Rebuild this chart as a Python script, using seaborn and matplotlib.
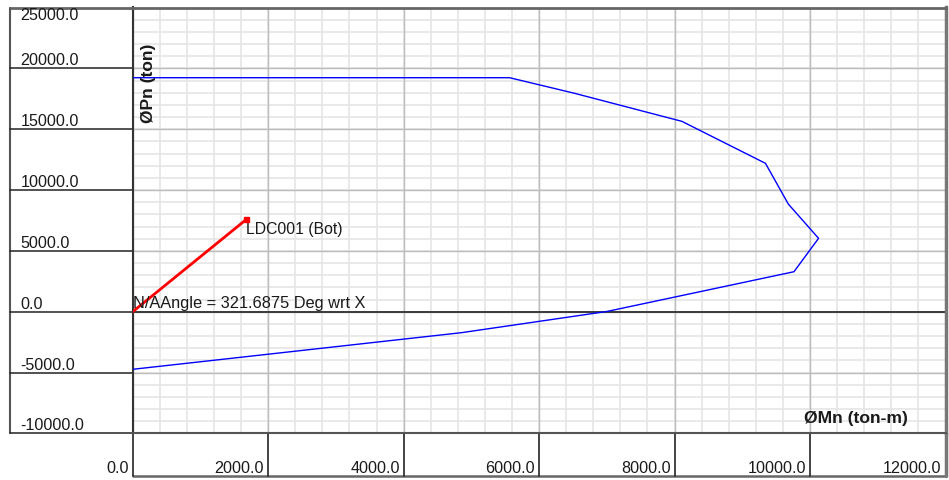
import matplotlib
matplotlib.use("Agg")
import matplotlib.pyplot as plt
import matplotlib.transforms as mtransforms
import numpy as np
import pandas as pd
import seaborn as sns

sns.set_style("white")
plt.rcParams["font.family"] = ["Liberation Sans", "DejaVu Sans"]

# Interaction diagram capacity curve (moment vs axial load)
mn_capacity = [0, 5564, 6508, 8108, 9342, 9679, 10126, 9763, 6997, 4849, 0]
pn_capacity = [19230, 19230, 17970, 15645, 12194, 8850, 6031, 3287, 16, -1726, -4733]

# Load demand ray
mn_demand = [0.0, 1679.0]
pn_demand = [0.0, 7592.0]
demand_label = "LDC001 (Bot)"
angle_label = "N/AAngle = 321.6875 Deg wrt X"

x_ticks = [0, 2000, 4000, 6000, 8000, 10000, 12000]
y_ticks = [-10000, -5000, 0, 5000, 10000, 15000, 20000, 25000]
x_minor_step = 400
y_minor_step = 1000
x_title = "ØMn (ton-m)"
y_title = "ØPn (ton)"

TXT = "#1a1a1a"
W, H = 949, 480
L, R, T, B = 132.7, 945.5, 7.5, 433.4
fig = plt.figure(figsize=(W / 100, H / 100), dpi=100)
ax = fig.add_axes([L / W, 1 - B / H, (R - L) / W, (B - T) / H])
ax.set_xlim(x_ticks[0], x_ticks[-1])
ax.set_ylim(y_ticks[0], y_ticks[-1])
ax.set_xticks([])
ax.set_yticks([])

# grid: light minor lines, darker major lines
for xv in np.arange(x_ticks[0], x_ticks[-1] + 1, x_minor_step):
    ax.axvline(xv, color="#e5e5e5", lw=1.2, zorder=0.5)
for yv in np.arange(y_ticks[0], y_ticks[-1] + 1, y_minor_step):
    ax.axhline(yv, color="#e5e5e5", lw=1.2, zorder=0.5)
for xv in x_ticks:
    ax.axvline(xv, color="#bcbcbc", lw=1.0, zorder=0.6)
for yv in y_ticks:
    ax.axhline(yv, color="#bcbcbc", lw=1.0, zorder=0.6)
ax.axhline(0, color="#3a3a3a", lw=1.4, zorder=1.5)

for side, col, lw in [("left", "#333333", 1.5), ("bottom", "#555555", 1.5),
                      ("top", "#666666", 2.0), ("right", "#777777", 2.5)]:
    ax.spines[side].set_visible(True)
    ax.spines[side].set_color(col)
    ax.spines[side].set_linewidth(lw)

bl_y = mtransforms.blended_transform_factory(ax.transAxes, ax.transData)
bl_x = mtransforms.blended_transform_factory(ax.transData, ax.transAxes)
col_left = -(L - 10) / (R - L)
row_depth = (476 - B) / (B - T)

# left label column
ax.plot([col_left, 0], [1, 1], transform=ax.transAxes, color="#666666", lw=2.0, clip_on=False)
ax.plot([col_left, col_left], [0, 1], transform=ax.transAxes, color="#555555", lw=1.5, clip_on=False)
for yv in y_ticks[:-1]:
    ax.plot([col_left, 0], [yv, yv], transform=bl_y, color="#222222", lw=1.1, clip_on=False)

# bottom label row
ax.plot([x_ticks[0], x_ticks[-1]], [-row_depth, -row_depth], transform=bl_x,
        color="#666666", lw=1.8, clip_on=False)
for xv in x_ticks:
    col, lw = ("#777777", 2.5) if xv == x_ticks[-1] else ("#222222", 1.2)
    ax.plot([xv, xv], [-row_depth, 0], transform=bl_x, color=col, lw=lw, clip_on=False)

# tick labels
for yv in y_ticks:
    if yv == y_ticks[-1]:
        tr = mtransforms.offset_copy(bl_y, fig=fig, x=0, y=-12.5, units="dots")
    else:
        tr = mtransforms.offset_copy(bl_y, fig=fig, x=0, y=3, units="dots")
    ax.text((20.5 - L) / (R - L), yv, f"{yv:.1f}", transform=tr, ha="left",
            va="baseline", fontsize=11.6, color=TXT, clip_on=False)
for xv in x_ticks:
    tr = mtransforms.offset_copy(bl_x, fig=fig, x=-4, y=-(473 - B), units="dots")
    ax.text(xv, 0, f"{xv:.1f}", transform=tr, ha="right", va="baseline",
            fontsize=11.6, color=TXT, clip_on=False)

# curves
sns.lineplot(x=mn_capacity, y=pn_capacity, sort=False, estimator=None,
             color="#0000ff", lw=1.0, ax=ax, zorder=3)
sns.lineplot(x=mn_demand, y=pn_demand, sort=False, estimator=None,
             color="#ff0000", lw=2.0, ax=ax, zorder=4)
ax.plot(mn_demand[-1:], pn_demand[-1:], marker="s", ms=3.6, color="#ff0000",
        ls="none", zorder=5)

# annotations
tr = mtransforms.offset_copy(ax.transData, fig=fig, x=0, y=-14.7, units="dots")
ax.text(mn_demand[-1], pn_demand[-1], demand_label, transform=tr, ha="left",
        va="baseline", fontsize=11.3, color=TXT)
tr = mtransforms.offset_copy(ax.transData, fig=fig, x=0.5, y=3.4, units="dots")
ax.text(0, 0, angle_label, transform=tr, ha="left", va="baseline",
        fontsize=11.8, color=TXT, zorder=6)

ax.text((148 - L) / (R - L), (B - 83.5) / (B - T), y_title, transform=ax.transAxes,
        rotation=90, ha="center", va="center", fontsize=12.5, fontweight="bold", color=TXT)
ax.text((804.3 - L) / (R - L), (B - 423.3) / (B - T), x_title, transform=ax.transAxes,
        ha="left", va="baseline", fontsize=12.6, fontweight="bold", color=TXT)

fig.savefig("out.png", dpi=100)
